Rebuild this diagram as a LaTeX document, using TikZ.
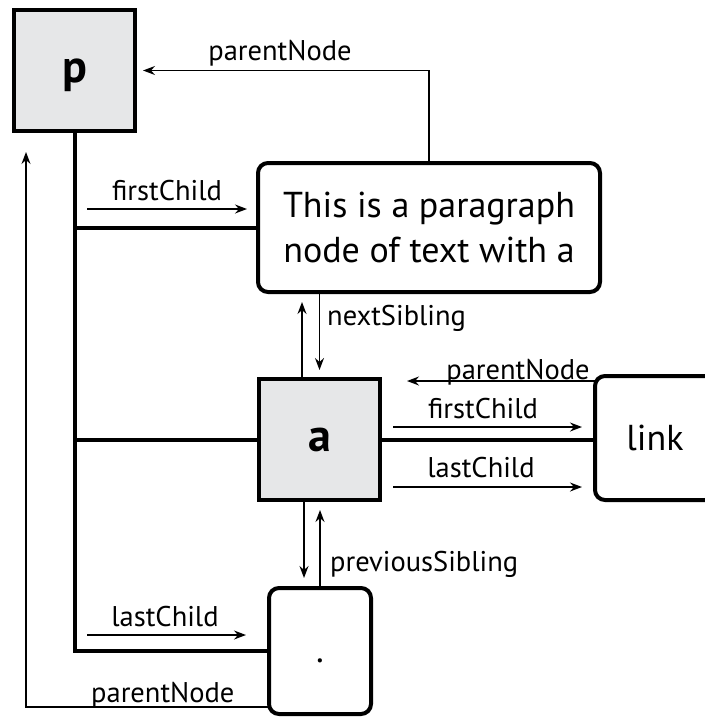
\documentclass[tikz,border=0pt]{standalone}
\usepackage{fontspec}
\setmainfont{PT Sans}
\usetikzlibrary{arrows.meta}
\definecolor{boxgray}{HTML}{E6E7E8}
\begin{document}
\begin{tikzpicture}[x=1pt,y=-1pt,
  sq/.style={draw, line width=4pt, fill=boxgray, minimum width=121pt, minimum height=121pt, inner sep=0pt, font=\fontsize{46}{46}\selectfont\bfseries},
  rbox/.style={draw, line width=4pt, rounded corners=10pt, fill=white, inner sep=0pt, font=\fontsize{36}{45}\selectfont},
  trunk/.style={line width=4pt},
  ptr/.style={line width=1.5pt, -{Stealth[length=12pt,width=9pt,inset=4pt]}},
  lbl/.style={font=\fontsize{28.5}{28.5}\selectfont, inner sep=0pt, anchor=base},
]
\useasboundingbox (0,0) rectangle (704,717);
% nodes
\node[sq, text depth=0pt] (p) at (74.5,70.5) {p};
\node[rbox, minimum width=342pt, minimum height=129pt, align=center] (para) at (429,227.5) {This is a paragraph\\node of text with a};
\node[sq] (a) at (319.5,439.5) {a};
\node[rbox, minimum width=120pt, minimum height=124pt] (link) at (655,438) {link};
\node[rbox, minimum width=102pt, minimum height=126pt, text height=31pt, text depth=9pt] (dot) at (320,651) {.};
% structural lines
\draw[trunk] (p.south) -- (p.south |- dot.west) -- (dot.west);
\draw[trunk] (p.south |- para.west) -- (para.west);
\draw[trunk] (p.south |- a.west) -- (a.west);
\draw[trunk] (a.east) -- (a.east -| link.west);
% pointer coordinates
\coordinate (pnTopEnd) at (143,70.5);
\coordinate (fcTopS) at (87,209);
\coordinate (fcTopE) at (247,209);
\coordinate (nsUpS) at (302,379);
\coordinate (nsUpE) at (302,302);
\coordinate (nsDnE) at (319.5,370);
\coordinate (pnRS) at (595,381);
\coordinate (pnRE) at (407,381);
\coordinate (fcRS) at (393,427);
\coordinate (fcRE) at (582,427);
\coordinate (lcRS) at (393,487);
\coordinate (lcRE) at (582,487);
\coordinate (psDnS) at (304,500);
\coordinate (psDnE) at (304,578);
\coordinate (psUpE) at (320,510);
\coordinate (lcBS) at (87,635);
\coordinate (lcBE) at (246,635);
\coordinate (pnBS) at (269,707);
\coordinate (pnBC) at (26,707);
\coordinate (pnBE) at (26,152);
% pointers
\draw[ptr] (para.north) -- (para.north |- p.east) -- (pnTopEnd);
\draw[ptr] (fcTopS) -- (fcTopE);
\draw[ptr] (nsUpS) -- (nsUpE);
\draw[ptr] (a.north |- para.south) -- (nsDnE);
\draw[ptr] (pnRS) -- (pnRE);
\draw[ptr] (fcRS) -- (fcRE);
\draw[ptr] (lcRS) -- (lcRE);
\draw[ptr] (psDnS) -- (psDnE);
\draw[ptr] (dot.north) -- (psUpE);
\draw[ptr] (lcBS) -- (lcBE);
\draw[ptr] (pnBS) -- (pnBC) -- (pnBE);
% labels
\node[lbl] (lPtop) at (280,60) {parentNode};
\node[lbl] (lFtop) at (167,200) {firstChild};
\node[lbl, anchor=base west] (lNext) at (327,325) {nextSibling};
\node[lbl] (lPright) at (518,379) {parentNode};
\node[lbl] (lFright) at (483,418) {firstChild};
\node[lbl] (lLright) at (481,477) {lastChild};
\node[lbl, anchor=base west] (lPrev) at (330,571) {previousSibling};
\node[lbl] (lLbot) at (165,626) {lastChild};
\node[lbl, anchor=base west] (lPbot) at (91,702) {parentNode};
\end{tikzpicture}
\end{document}
